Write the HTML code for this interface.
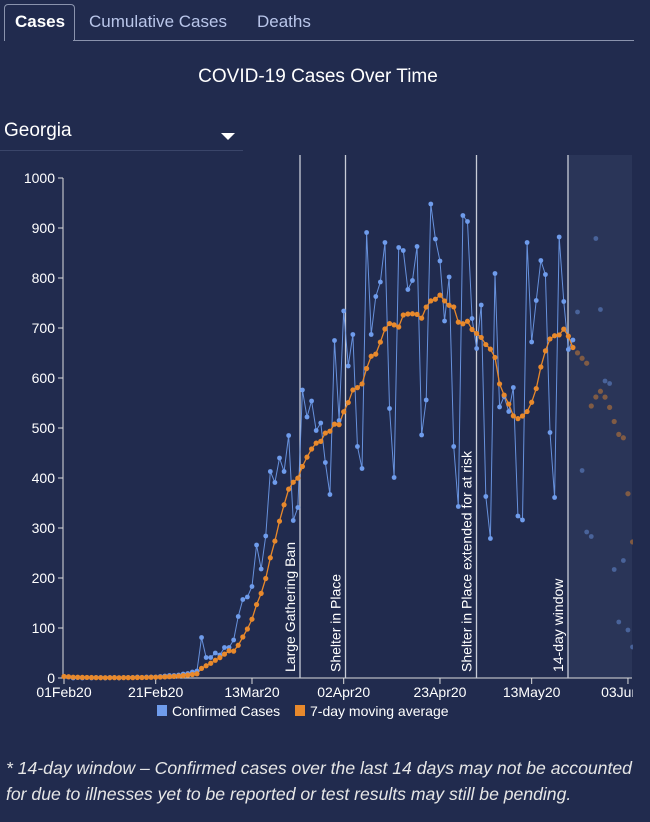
<!DOCTYPE html>
<html><head><meta charset="utf-8"><style>
body{margin:0;width:650px;height:822px;background:#212b4e;overflow:hidden;font-family:"Liberation Sans",sans-serif;color:#fff}
.ab{position:absolute;white-space:nowrap}
</style></head><body>
<div class="ab" style="left:4px;top:4px;width:69px;height:36px;border:1px solid #8a93ad;border-bottom:none;border-radius:4px 4px 0 0;background:#212b4e"></div>
<div class="ab" style="left:73px;top:40px;width:561px;height:1px;background:#8a93ad"></div>
<div class="ab" style="left:15px;top:12px;font-size:17px;font-weight:bold;color:#fff">Cases</div>
<div class="ab" style="left:89px;top:12px;font-size:17px;color:#b9c6ea">Cumulative Cases</div>
<div class="ab" style="left:257px;top:12px;font-size:17px;color:#b9c6ea">Deaths</div>
<div class="ab" style="left:0;width:636px;text-align:center;top:66px;font-size:19px;color:#fff">COVID-19 Cases Over Time</div>
<div class="ab" style="left:4px;top:120px;font-size:19px;color:#fff">Georgia</div>
<div class="ab" style="left:221px;top:133px;width:0;height:0;border-left:7px solid transparent;border-right:7px solid transparent;border-top:7px solid #fff"></div>
<div class="ab" style="left:0;top:150px;width:243px;height:1px;background:#3a4569"></div>
<svg id="c" class="ab" style="left:0;top:0" width="633" height="740"></svg>
<div class="ab" style="left:6px;top:755px;font-size:17.6px;font-style:italic;color:#e6e6e6;line-height:26px">* 14-day window – Confirmed cases over the last 14 days may not be accounted<br>for due to illnesses yet to be reported or test results may still be pending.</div>
<script>
var v=[3,2,0,1,0,1,0,1,1,0,1,1,0,1,1,1,2,1,2,2,2,3,4,5,5,6,8,9,12,14,
81,41,41,50,46,61,61,76,123,157,162,183,266,218,284,413,391,440,413,485,315,341,576,522,554,495,510,431,367,675,515,734,624,687,463,419,891,687,
763,792,871,539,401,861,855,777,795,863,486,556,948,878,834,714,802,463,343,925,913,719,659,746,363,279,
809,542,563,533,581,324,316,871,672,755,835,807,491,361,882,753,657,676,
732,415,292,283,879,737,594,589,217,112,235,96,62];
function X(d){return 64+4.585*d}function Y(val){return 678-val*0.5}
var s='<rect x="568" y="155" width="64" height="523" fill="#2a3558"/>';
for(var t=0;t<=1000;t+=100){s+='<line x1="58" x2="63" y1="'+Y(t)+'" y2="'+Y(t)+'" stroke="#ddd"/><text x="55" y="'+(Y(t)+5)+'" font-size="14" text-anchor="end" fill="#fff" font-family="Liberation Sans">'+t+'</text>';}
s+='<line x1="63" x2="63" y1="178" y2="678" stroke="#ddd"/><line x1="63" x2="632" y1="678" y2="678" stroke="#ddd"/>';
var lab=['01Feb20','21Feb20','13Mar20','02Apr20','23Apr20','13May20','03Jun20'],dd=[0,20,41,61,82,102,123];
for(var i=0;i<7;i++){var x=X(dd[i]);s+='<line x1="'+x+'" x2="'+x+'" y1="678" y2="684" stroke="#ddd"/><text x="'+x+'" y="697" font-size="14" text-anchor="middle" fill="#fff" font-family="Liberation Sans">'+lab[i]+'</text>';}
var vl=[[300,'Large Gathering Ban'],[345.5,'Shelter in Place'],[476.5,'Shelter in Place extended for at risk'],[568,'14-day window']];
vl.forEach(function(a){s+='<line x1="'+a[0]+'" x2="'+a[0]+'" y1="155" y2="678" stroke="#c8ccd8" stroke-width="1.3"/><text transform="translate('+(a[0]-5)+',672) rotate(-90)" font-size="14" fill="#fff" font-family="Liberation Sans">'+a[1]+'</text>';});
var ma=[];for(var d=0;d<v.length;d++){var a=0,n=0;for(var k=Math.max(0,d-6);k<=d;k++){a+=v[k];n++}ma.push(a/n)}
var last=111;
var pb='',po='';for(var d=0;d<=last;d++){pb+=X(d)+','+Y(v[d])+' ';po+=X(d)+','+Y(ma[d])+' ';}
s+='<polyline points="'+pb+'" fill="none" stroke="#6f9cec" stroke-width="1" opacity="0.9"/>';
s+='<polyline points="'+po+'" fill="none" stroke="#e8892c" stroke-width="1.3"/>';
for(var d=0;d<v.length;d++){var f=d>last?0.45:1;
s+='<circle cx="'+X(d)+'" cy="'+Y(v[d])+'" r="2.4" fill="#6f9cec" opacity="'+f+'"/>';
s+='<circle cx="'+X(d)+'" cy="'+Y(ma[d])+'" r="2.6" fill="#e8892c" opacity="'+f+'"/>';}
s+='<rect x="157" y="705" width="10" height="11" fill="#6f9cec"/><text x="172" y="716" font-size="14" fill="#fff" font-family="Liberation Sans">Confirmed Cases</text>';
s+='<rect x="295" y="705" width="10" height="11" fill="#e8892c"/><text x="310" y="716" font-size="14" fill="#fff" font-family="Liberation Sans">7-day moving average</text>';
document.getElementById('c').innerHTML=s;
</script>
</body></html>
